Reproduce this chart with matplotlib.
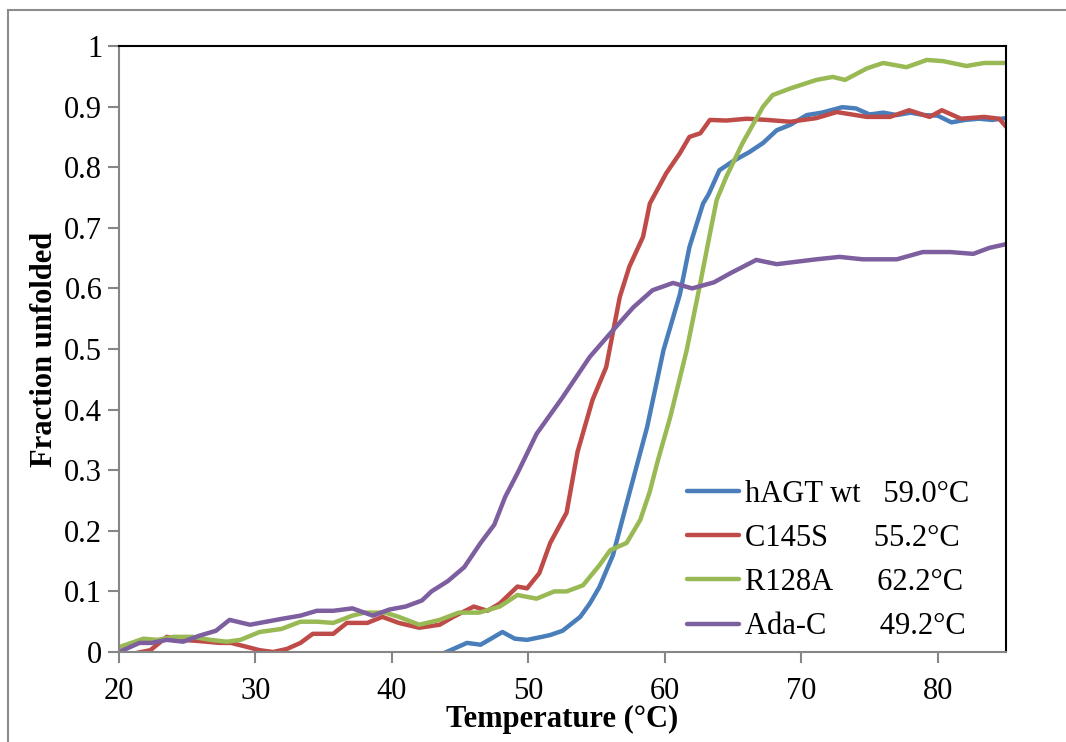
import numpy as np
import matplotlib.pyplot as plt
from matplotlib.lines import Line2D

plt.rcParams['font.family'] = ['Liberation Serif', 'DejaVu Serif']

# hAGT wt (blue)
wt_t = [43.0, 44.0, 45.5, 46.5, 48.1, 49.0, 49.9, 51.0, 51.6, 52.5, 53.8, 54.5, 55.2,
        56.2, 57.4, 58.7, 59.9, 61.1, 61.8, 62.8, 63.2, 64.0, 65.0, 66.2, 67.2, 68.2,
        69.2, 70.4, 71.5, 73.0, 74.0, 75.0, 76.0, 77.0, 78.0, 79.0, 80.0, 81.0, 82.0,
        83.0, 84.0, 85.0]
wt_f = [-0.01, 0.0, 0.015, 0.012, 0.033, 0.022, 0.02, 0.025, 0.028, 0.035, 0.058, 0.08, 0.107,
        0.16, 0.262, 0.371, 0.498, 0.59, 0.668, 0.74, 0.755, 0.795, 0.81, 0.825, 0.84, 0.861,
        0.87, 0.886, 0.89, 0.899, 0.897, 0.887, 0.89, 0.886, 0.89, 0.886, 0.885, 0.874, 0.878,
        0.88, 0.878, 0.881]

# C145S (red)
c145s_t = [20.0, 21.0, 22.3, 23.5, 24.7, 25.9, 27.4, 28.2, 29.1, 30.3, 31.3, 32.3, 33.3,
           34.2, 35.7, 36.7, 38.2, 39.3, 40.5, 42.0, 43.5, 44.5, 46.0, 47.0, 47.9, 49.2,
           49.9, 50.8, 51.6, 52.8, 53.6, 54.7, 55.7, 56.7, 57.4, 58.4, 58.9, 60.1, 61.1,
           61.8, 62.6, 63.3, 64.5, 66.0, 67.5, 69.2, 71.1, 72.6, 74.8, 76.5, 77.9, 79.4,
           80.3, 81.7, 83.4, 84.5, 85.0]
c145s_f = [0.0, -0.003, 0.003, 0.025, 0.02, 0.018, 0.015, 0.015, 0.01, 0.003, 0.0, 0.005, 0.015,
           0.03, 0.03, 0.048, 0.048, 0.058, 0.048, 0.04, 0.045, 0.058, 0.075, 0.068, 0.08, 0.108,
           0.105, 0.13, 0.18, 0.23, 0.33, 0.416, 0.47, 0.586, 0.636, 0.685, 0.74, 0.79, 0.823,
           0.85, 0.856, 0.878, 0.877, 0.88, 0.878, 0.875, 0.881, 0.891, 0.883, 0.883, 0.894, 0.883,
           0.894, 0.88, 0.883, 0.88, 0.867]

# R128A (green)
r128a_t = [20.0, 21.8, 22.8, 24.0, 25.4, 26.7, 27.9, 28.9, 30.3, 31.9, 33.3, 34.5, 35.7,
           37.1, 38.0, 39.5, 40.5, 42.0, 43.5, 44.9, 46.4, 47.9, 49.2, 50.6, 51.9, 52.8,
           54.0, 55.2, 56.0, 57.2, 58.2, 58.9, 59.5, 60.4, 61.6, 62.6, 63.3, 63.8, 64.5,
           65.7, 67.2, 67.9, 69.2, 71.1, 72.3, 73.2, 74.8, 76.0, 77.7, 79.2, 80.4, 82.1,
           83.4, 85.0]
r128a_f = [0.008, 0.022, 0.02, 0.025, 0.025, 0.02, 0.017, 0.02, 0.033, 0.038, 0.05, 0.05, 0.048,
           0.06, 0.065, 0.065, 0.058, 0.045, 0.053, 0.065, 0.065, 0.075, 0.094, 0.088, 0.1, 0.1,
           0.11, 0.143, 0.168, 0.18, 0.218, 0.265, 0.317, 0.388, 0.498, 0.609, 0.69, 0.746, 0.784,
           0.84, 0.9, 0.919, 0.93, 0.944, 0.949, 0.944, 0.963, 0.972, 0.965, 0.977, 0.975, 0.967,
           0.972, 0.972]

# Ada-C (purple)
adac_t = [20.0, 21.5, 22.4, 23.5, 24.7, 25.9, 27.1, 28.1, 29.6, 30.8, 32.0, 33.3, 34.5,
          35.7, 37.1, 38.6, 39.8, 41.0, 42.2, 42.9, 44.1, 45.3, 46.5, 47.5, 48.3, 49.2,
          50.6, 52.5, 54.5, 56.2, 57.7, 59.1, 60.6, 62.0, 63.6, 64.8, 66.7, 68.2, 71.1,
          72.8, 74.5, 77.0, 78.9, 80.9, 82.6, 83.8, 85.0]
adac_f = [0.0, 0.015, 0.015, 0.02, 0.017, 0.027, 0.035, 0.053, 0.045, 0.05, 0.055, 0.06, 0.068,
          0.068, 0.072, 0.06, 0.07, 0.075, 0.085, 0.1, 0.117, 0.14, 0.18, 0.21, 0.256, 0.295,
          0.36, 0.42, 0.487, 0.531, 0.569, 0.597, 0.609, 0.6, 0.61, 0.625, 0.647, 0.64, 0.648,
          0.652, 0.648, 0.648, 0.66, 0.66, 0.657, 0.667, 0.673]

labels = ['hAGT wt   59.0\u00b0C', 'C145S      55.2\u00b0C',
          'R128A      62.2\u00b0C', 'Ada-C       49.2\u00b0C']
colors = ['#4a7ebb', '#be4b48', '#98b954', '#7d5fa0']

fig = plt.figure(figsize=(10.66, 7.42), dpi=100)
ax = fig.add_axes([119/1066, 1 - 652/742, (1006-119)/1066, (652-46)/742])

series = [(wt_t, wt_f), (c145s_t, c145s_f), (r128a_t, r128a_f), (adac_t, adac_f)]
for (t, f), c, lab in zip(series, colors, labels):
    ax.plot(t, f, color=c, lw=3.2, label=lab, solid_capstyle='round')

ax.set_xlim(20, 85)
ax.set_ylim(0, 1)
ax.set_xticks(np.arange(20, 81, 10))
ax.set_yticks(np.arange(0, 1.01, 0.1))
ax.set_yticklabels(['0'] + [f'{v:.1f}' for v in np.arange(0.1, 0.95, 0.1)] + ['1'])

for s in ['top', 'right']:
    ax.spines[s].set_color('black')
    ax.spines[s].set_linewidth(1.5)
for s in ['left', 'bottom']:
    ax.spines[s].set_color('#868686')
    ax.spines[s].set_linewidth(1.5)
ax.tick_params(axis='both', direction='out', length=8, width=1.5, color='#868686',
               labelsize=22, pad=4)
ax.tick_params(axis='x', pad=10)

ax.set_xlabel('Temperature (\u00b0C)', fontsize=22, fontweight='bold', labelpad=-1)
ax.set_ylabel('Fraction unfolded', fontsize=22, fontweight='bold', labelpad=4)

ax.legend(loc='lower right', bbox_to_anchor=(0.99, -0.028), frameon=False, fontsize=22,
          handlelength=1.7, handletextpad=0.2, labelspacing=0.5)

# outer frame
fig.add_artist(Line2D([8/1066, 8/1066], [0, 1 - 10/742], color='#8c8c8c', lw=1.5,
                      transform=fig.transFigure))
fig.add_artist(Line2D([8/1066, 1], [1 - 10/742, 1 - 10/742], color='#8c8c8c', lw=1.5,
                      transform=fig.transFigure))

fig.savefig('out.png', dpi=100)
